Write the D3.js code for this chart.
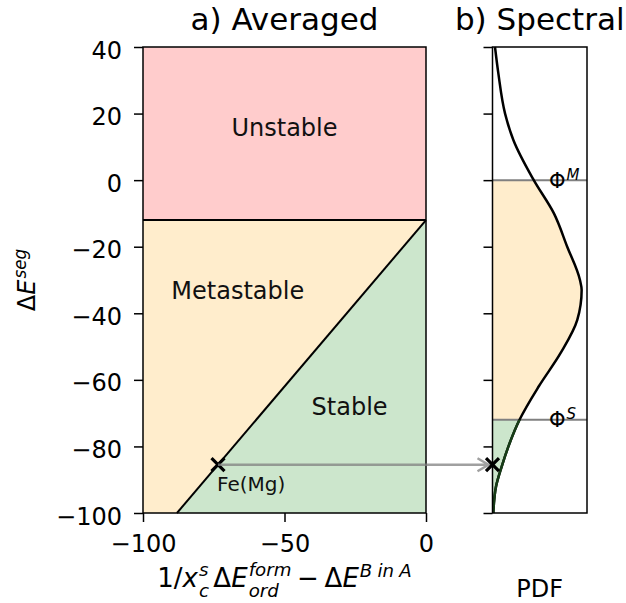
<!DOCTYPE html>
<html>
<head>
<meta charset="utf-8">
<script src="https://cdn.jsdelivr.net/npm/d3@7"></script>
<style>
  html, body { margin: 0; padding: 0; background: #fff; }
  svg { display: block; font-family: "DejaVu Sans", sans-serif; }
</style>
</head>
<body>
<svg id="chart" width="626" height="603"></svg>
<script>
// ---- data -------------------------------------------------------------
// Segregation-energy axis ticks and the "averaged" axis ticks
const energyTicks = [40, 20, 0, -20, -40, -60, -80, -100];
const averagedTicks = [-100, -50, 0];

// Phase boundaries of the averaged model
const metastableLimit = -12;          // above: unstable
const stableLine = [[-88, -100], [0, -12]]; // below/right: stable

// Fe(Mg) system point
const systemName = "Fe(Mg)";
const systemPoint = [-73.5, -85.5];

// Spectral thresholds
const phiM = 0;
const phiS = -72;

// Spectral distribution (relative density vs segregation energy)
const pdfEnergy  = [40, 32, 20, 12, 0, -10, -20, -30, -33, -42, -52, -62, -72, -80, -86, -92, -100];
const pdfDensity = [0.028, 0.066, 0.141, 0.235, 0.463, 0.689, 0.838, 0.981, 1.0, 0.951, 0.763, 0.518, 0.303, 0.179, 0.104, 0.040, 0.009];

// Region labels
const regionNames = ["Unstable", "Metastable", "Stable"];
const regionAt = [[-50, 16], [-66.5, -33], [-27, -68]];

// ---- layout -----------------------------------------------------------
const svg = d3.select("#chart");
const FONT = 24;
const C_RED = "#ffcccc", C_ORANGE = "#ffedcc", C_GREEN = "#cce6cc";

const x = d3.scaleLinear().domain([-100, 0]).range([143, 426]);
const y = d3.scaleLinear().domain([-100, 40]).range([513, 47]);
const px = d3.scaleLinear().domain([0, d3.max(pdfDensity) * 1.06]).range([492.5, 587]);

const fmt = d => String(d).replace("-", "\u2212");

// Lays out a small math-like label made of pieces; returns a group centred at 0.
// A "stack" piece puts a superscript and a subscript in one text element.
function mathLabel(parent, parts, size) {
  const g = parent.append("g");
  const inner = g.append("g");
  let cx = 0;
  const span = (t, p) => t.append("tspan")
    .attr("x", cx)
    .attr("y", (p.dy || 0) * size)
    .attr("font-size", size * (p.k || 1))
    .attr("font-style", p.it ? "italic" : "normal")
    .text(p.t);
  parts.forEach(p => {
    if (p.space) { cx += p.space * size; return; }
    const t = inner.append("text").attr("fill", "#000");
    const items = p.stack || [p];
    const w = Math.max(...items.map(q => span(t, q).node().getComputedTextLength()));
    cx += w;
  });
  inner.attr("transform", `translate(${-cx / 2},0)`);
  return g;
}
const sup = (t) => ({ t, it: true, k: 0.7, dy: -0.38 });
const supHi = (t) => ({ t, it: true, k: 0.7, dy: -0.43 });
const subLo = (t) => ({ t, it: true, k: 0.7, dy: 0.4 });

// ---- panel a: averaged ------------------------------------------------
const pa = svg.append("g");

// regions
pa.append("rect")
  .attr("x", x(-100)).attr("y", y(40))
  .attr("width", x(0) - x(-100)).attr("height", y(metastableLimit) - y(40))
  .attr("fill", C_RED);

const poly = d3.line().x(d => x(d[0])).y(d => y(d[1]));
pa.append("path")
  .attr("d", poly([[-100, metastableLimit], stableLine[1], stableLine[0], [-100, -100]]) + "Z")
  .attr("fill", C_ORANGE);
pa.append("path")
  .attr("d", poly([stableLine[1], [0, -100], stableLine[0]]) + "Z")
  .attr("fill", C_GREEN);

// boundaries
pa.append("path").attr("d", poly([[-100, metastableLimit], [0, metastableLimit]]))
  .attr("stroke", "#000").attr("stroke-width", 2).attr("fill", "none");
pa.append("path").attr("d", poly(stableLine))
  .attr("stroke", "#000").attr("stroke-width", 2).attr("fill", "none");

// region labels
regionNames.forEach((name, i) => {
  pa.append("text")
    .attr("x", x(regionAt[i][0]))
    .attr("y", y(regionAt[i][1]) + 0.3645 * FONT)
    .attr("text-anchor", "middle")
    .attr("font-size", FONT)
    .attr("fill", "#111")
    .text(name);
});

// arrow from averaged point to spectral axis
const ay = y(systemPoint[1]);
const tipX = px(0) - 4;
svg.append("path")
  .attr("d", `M${x(systemPoint[0])},${ay}H${tipX}M${tipX - 11},${ay - 6.5}L${tipX},${ay}L${tipX - 11},${ay + 6.5}`)
  .attr("stroke", "#808080").attr("stroke-opacity", 0.75)
  .attr("stroke-width", 2.5).attr("fill", "none")
  .attr("stroke-linejoin", "miter");

// system marker + label
function cross(g, cx, cy) {
  const r = 6.5;
  g.append("path")
    .attr("d", `M${cx - r},${cy - r}L${cx + r},${cy + r}M${cx - r},${cy + r}L${cx + r},${cy - r}`)
    .attr("stroke", "#000").attr("stroke-width", 3.2).attr("fill", "none");
}
cross(pa, x(systemPoint[0]), ay);
pa.append("text")
  .attr("x", x(systemPoint[0]) - 1)
  .attr("y", ay + 26.5)
  .attr("font-size", 20)
  .attr("fill", "#111")
  .text(systemName);

// axes
const ax = pa.append("g").attr("transform", `translate(${x(-100)},0)`)
  .call(d3.axisLeft(y).tickValues(energyTicks).tickFormat(fmt).tickSize(9).tickPadding(12));
const bx = pa.append("g").attr("transform", `translate(0,${y(-100)})`)
  .call(d3.axisBottom(x).tickValues(averagedTicks).tickFormat(fmt).tickSize(9));
[ax, bx].forEach(a => {
  a.select(".domain").remove();
  a.selectAll(".tick line").attr("stroke", "#000").attr("stroke-width", 1.5);
  a.selectAll(".tick text").attr("font-size", FONT).attr("font-family", "DejaVu Sans").attr("fill", "#000");
});
ax.selectAll(".tick text").attr("dy", 11);
bx.selectAll(".tick text").attr("y", 39).attr("dy", 0);

pa.append("rect")
  .attr("x", x(-100)).attr("y", y(40))
  .attr("width", x(0) - x(-100)).attr("height", y(-100) - y(40))
  .attr("fill", "none").attr("stroke", "#000").attr("stroke-width", 1.5);

pa.append("text")
  .attr("x", (x(-100) + x(0)) / 2).attr("y", 30)
  .attr("text-anchor", "middle").attr("font-size", 31).attr("fill", "#000")
  .text("a) Averaged");

// axis labels
mathLabel(pa, [
  { t: "1/" }, { t: "x", it: true }, { space: 0.04 }, { stack: [supHi("s"), subLo("c")] },
  { space: 0.17 },
  { t: "\u0394" }, { t: "E", it: true }, { space: 0.04 }, { stack: [supHi("form"), subLo("ord")] },
  { space: 0.22 }, { t: "\u2212" }, { space: 0.22 },
  { t: "\u0394" }, { t: "E", it: true }, { space: 0.04 },
  sup("B"), { space: 0.2 }, sup("in"), { space: 0.2 }, sup("A")
], 26).attr("transform", `translate(${(x(-100) + x(0)) / 2},587)`);

mathLabel(pa, [
  { t: "\u0394" }, { t: "E", it: true }, { space: 0.04 }, sup("seg")
], FONT).attr("transform", `translate(35,${(y(40) + y(-100)) / 2}) rotate(-90)`);

// ---- panel b: spectral ------------------------------------------------
const pb = svg.append("g");
const pdf = pdfEnergy.map((e, i) => ({ e, d: pdfDensity[i] }))
  .sort((a, b) => a.e - b.e);

const defs = svg.append("defs");
function band(id, top, bottom) {
  defs.append("clipPath").attr("id", id).append("rect")
    .attr("x", px(0)).attr("width", px.range()[1] - px(0))
    .attr("y", y(top)).attr("height", y(bottom) - y(top));
}
band("band-meta", phiM, phiS);
band("band-stable", phiS, -100);

const area = d3.area().curve(d3.curveMonotoneY)
  .y(d => y(d.e)).x0(px(0)).x1(d => px(d.d));
const line = d3.line().curve(d3.curveMonotoneY)
  .y(d => y(d.e)).x(d => px(d.d));

pb.append("path").attr("d", area(pdf)).attr("fill", C_ORANGE).attr("clip-path", "url(#band-meta)");
pb.append("path").attr("d", area(pdf)).attr("fill", C_GREEN).attr("clip-path", "url(#band-stable)");

// thresholds
[[phiM, "M"], [phiS, "S"]].forEach(([v, s]) => {
  pb.append("line")
    .attr("x1", px(0)).attr("x2", px.range()[1])
    .attr("y1", y(v)).attr("y2", y(v))
    .attr("stroke", "#808080").attr("stroke-width", 2);
  const t = pb.append("text").attr("x", 549).attr("y", y(v) + 7.5).attr("fill", "#000");
  t.append("tspan").attr("font-size", 21).text("\u03A6");
  t.append("tspan").attr("font-size", 15).attr("font-style", "italic").attr("dx", 1).attr("dy", -8).text(s);
});

// density curve
pb.append("path").attr("d", line(pdf))
  .attr("fill", "none").attr("stroke", "#000").attr("stroke-width", 2.5);
pb.append("path").attr("d", line(pdf))
  .attr("fill", "none").attr("stroke", "#173d17").attr("stroke-width", 2.5)
  .attr("clip-path", "url(#band-stable)");

cross(pb, px(0), ay);

const rax = pb.append("g").attr("transform", `translate(${px(0)},0)`)
  .call(d3.axisLeft(y).tickValues(energyTicks).tickFormat("").tickSize(9));
rax.select(".domain").remove();
rax.selectAll(".tick line").attr("stroke", "#000").attr("stroke-width", 1.5);

pb.append("rect")
  .attr("x", px(0)).attr("y", y(40))
  .attr("width", px.range()[1] - px(0)).attr("height", y(-100) - y(40))
  .attr("fill", "none").attr("stroke", "#000").attr("stroke-width", 1.5);

pb.append("text")
  .attr("x", (px(0) + px.range()[1]) / 2).attr("y", 30)
  .attr("text-anchor", "middle").attr("font-size", 31).attr("fill", "#000")
  .text("b) Spectral");

pb.append("text")
  .attr("x", (px(0) + px.range()[1]) / 2).attr("y", 597)
  .attr("text-anchor", "middle").attr("font-size", FONT).attr("fill", "#000")
  .text("PDF");
</script>
</body>
</html>
